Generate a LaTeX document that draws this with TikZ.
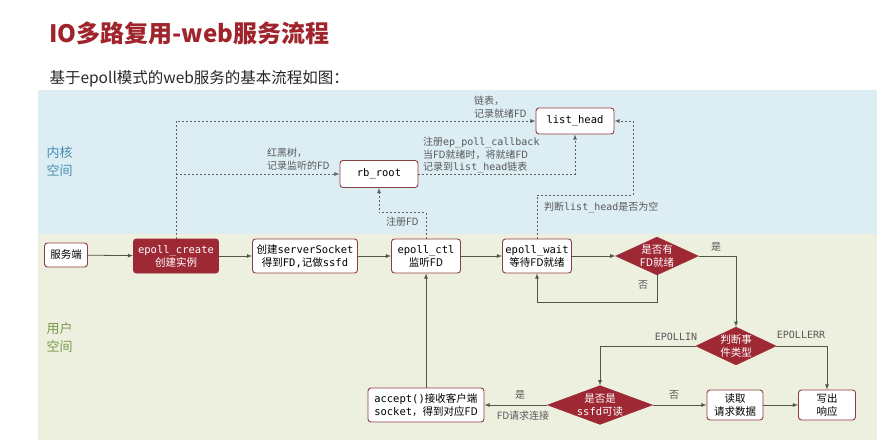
\documentclass[tikz,border=0pt]{standalone}
\usepackage{fontspec}
\setmainfont{Noto Sans CJK SC}
\setmonofont{DejaVu Sans Mono}
\usepackage{tikz}
\usetikzlibrary{positioning,shapes.geometric,calc}
\definecolor{titlered}{RGB}{160,36,44}
\definecolor{createred}{RGB}{158,40,52}
\definecolor{boxline}{RGB}{140,62,66}
\definecolor{kernelbg}{RGB}{220,237,243}
\definecolor{userbg}{RGB}{237,240,223}
\definecolor{kerneltext}{RGB}{72,142,178}
\definecolor{usertext}{RGB}{122,152,72}
\definecolor{flowline}{RGB}{78,88,68}
\definecolor{linkgray}{RGB}{95,95,95}
\definecolor{notegray}{RGB}{88,88,88}

\begin{document}
\begin{tikzpicture}[x=1pt,y=-1pt,>=latex,
    box/.style={draw=boxline,line width=0.9pt,rounded corners=3pt,fill=white,align=center,inner sep=2pt,font=\fontsize{10.5}{13}\selectfont},
    decision/.style={diamond,draw=createred,fill=createred,text=white,align=center,inner sep=0pt,aspect=2.2,font=\fontsize{10.5}{12.5}\selectfont},
    note/.style={text=notegray,inner sep=1pt,font=\fontsize{10}{12.5}\selectfont},
    flow/.style={->,draw=flowline,line width=0.8pt},
    link/.style={->,draw=linkgray,line width=0.8pt,dash pattern=on 2pt off 2pt}]
    \useasboundingbox (0,0) rectangle (894,444);
    \node[anchor=west,text=titlered,font=\fontsize{24}{28}\selectfont\bfseries] (title) at (46,33) {IO多路复用-web服务流程};
    \node[anchor=west,text=black!85,font=\fontsize{15.5}{18}\selectfont] (subtitle) at (46,79) {基于epoll模式的web服务的基本流程如图：};
    \fill[kernelbg] (38,90) rectangle (877,234);
    \fill[userbg] (38,234) rectangle (877,440);
    \node[anchor=north west,align=left,text=kerneltext,font=\fontsize{13}{18}\selectfont] (kernel) at (43,143) {内核\\空间};
    \node[anchor=north west,align=left,text=usertext,font=\fontsize{13}{18}\selectfont] (user) at (43,319) {用户\\空间};

    \node[box,minimum width=43,minimum height=24] (srv) at (66,255) {服务端};
    \node[box,fill=createred,draw=createred,text=white,minimum width=85,minimum height=34] (create) at (176,256) {\texttt{epoll\_create}\\创建实例};
    \node[box,minimum width=105,minimum height=34] (sock) at (305,256) {创建\texttt{serverSocket}\\得到\texttt{FD,}记做\texttt{ssfd}};
    \node[box,minimum width=69,minimum height=34] (ctl) at (426,256) {\texttt{epoll\_ctl}\\监听FD};
    \node[box,minimum width=69,minimum height=34] (wait) at (537,256) {\texttt{epoll\_wait}\\等待FD就绪};
    \node[decision,minimum width=79,minimum height=38] (hasfd) at (657,256) {是否有\\FD就绪};
    \node[decision,minimum width=78,minimum height=38] (evtype) at (736,346) {判断事\\件类型};
    \node[decision,aspect=2.7,minimum width=103,minimum height=38] (isssfd) at (600,405) {是否是\\\texttt{ssfd}可读};
    \node[box,align=left,minimum width=116,minimum height=34] (accept) at (426,405) {\texttt{accept()}接收客户端\\\texttt{socket}，得到对应FD};
    \node[box,minimum width=56,minimum height=30] (readreq) at (735,405) {读取\\请求数据};
    \node[box,minimum width=57,minimum height=30] (writeresp) at (827,405) {写出\\响应};
    \node[box,minimum width=78,minimum height=27] (rbroot) at (379,174) {\texttt{rb\_root}};
    \node[box,minimum width=78,minimum height=26] (listhead) at (575,121) {\texttt{list\_head}};
    \coordinate (waitturn) at (633,195);

    \draw[flow] (srv) -- (create);
    \draw[flow] (create) -- (sock);
    \draw[flow] (sock) -- (ctl);
    \draw[flow] (ctl) -- (wait);
    \draw[flow] (wait) -- (hasfd);
    \draw[flow] (hasfd.south) -- ++(0,27) -| (wait.south);
    \draw[flow] (hasfd.east) -| (evtype.north);
    \draw[flow] (evtype.west) -| (isssfd.north);
    \draw[flow] (evtype.east) -| (writeresp.north);
    \draw[flow] (isssfd.west) -- (accept.east);
    \draw[flow] (isssfd.east) -- (readreq.west);
    \draw[flow] (readreq) -- (writeresp);
    \draw[flow] (accept.north) -- (ctl.south);

    \draw[link] (create.north) |- (listhead.west);
    \draw[link] (create.north |- rbroot.west) -- (rbroot.west);
    \draw[link] (ctl.north) -- ++(0,-26) -| (rbroot.south);
    \draw[link] (rbroot.east) -| (listhead.south);
    \draw[link] (wait.north) |- (waitturn) |- (listhead.east);

    \node[note,anchor=west,align=left] (lbllist) at (473,107) {链表，\\记录就绪FD};
    \node[note,anchor=west,align=left] (lbltree) at (266,159) {红黑树，\\记录监听的FD};
    \node[note,anchor=west,align=left] (lblcb) at (422,155) {注册\texttt{ep\_poll\_callback}\\当FD就绪时，将就绪FD\\记录到\texttt{list\_head}链表};
    \node[note,anchor=west] (lblreg) at (385,222) {注册FD};
    \node[note,anchor=west] (lblempty) at (543,207) {判断\texttt{list\_head}是否为空};
    \node[note] (lblno) at (643,285) {否};
    \node[note] (lblyes) at (716,247) {是};
    \node[note] (lblin) at (676,337) {\texttt{EPOLLIN}};
    \node[note] (lblerr) at (801,335) {\texttt{EPOLLERR}};
    \node[note] (lblaccept) at (520,395) {是};
    \node[note] (lblconn) at (523,416) {FD请求连接};
    \node[note] (lblread) at (674,395) {否};
\end{tikzpicture}
\end{document}
